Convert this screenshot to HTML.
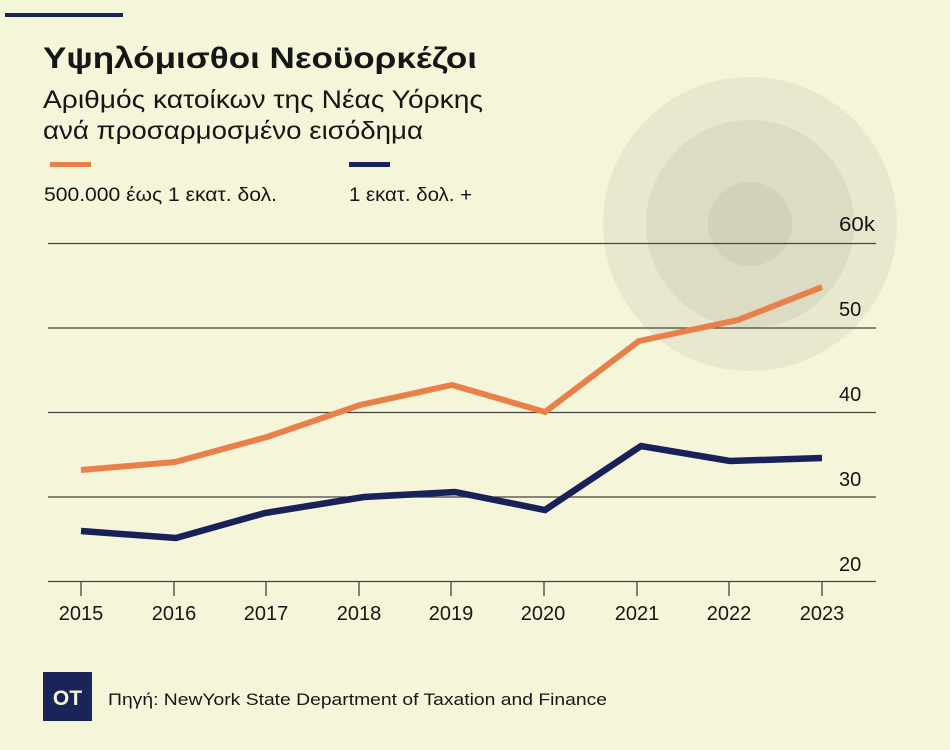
<!DOCTYPE html>
<html><head><meta charset="utf-8"><style>
html,body{margin:0;padding:0;background:#F5F5DA;}
svg{display:block;}
text{font-family:"Liberation Sans",sans-serif;fill:#161616;}
</style></head><body>
<svg width="950" height="750" viewBox="0 0 950 750" xmlns="http://www.w3.org/2000/svg">
<rect x="0" y="0" width="950" height="750" fill="#F5F5DA"/>
<rect x="5" y="13" width="118" height="4" fill="#1B2459"/>
<text x="43" y="68" font-size="30" font-weight="bold" textLength="434" lengthAdjust="spacingAndGlyphs">Υψηλόμισθοι Νεοϋορκέζοι</text>
<text x="43" y="108" font-size="25" textLength="440" lengthAdjust="spacingAndGlyphs">Αριθμός κατοίκων της Νέας Υόρκης</text>
<text x="43" y="139" font-size="25" textLength="380" lengthAdjust="spacingAndGlyphs">ανά προσαρμοσμένο εισόδημα</text>
<rect x="50" y="162" width="41" height="5" fill="#E98049"/>
<rect x="349" y="162" width="41" height="5" fill="#1B2459"/>
<text x="44" y="201" font-size="19" textLength="233" lengthAdjust="spacingAndGlyphs">500.000 έως 1 εκατ. δολ.</text>
<text x="349" y="201" font-size="19" textLength="123" lengthAdjust="spacingAndGlyphs">1 εκατ. δολ. +</text>
<circle cx="750" cy="224" r="147" fill="#E8E8CF"/>
<circle cx="750" cy="224" r="104" fill="#DCDCC4"/>
<circle cx="750" cy="224" r="42" fill="#D2D2BB"/>
<g stroke="#45453D" stroke-width="1.3">
<line x1="48" y1="243.5" x2="876" y2="243.5"/>
<line x1="48" y1="328" x2="876" y2="328"/>
<line x1="48" y1="412.5" x2="876" y2="412.5"/>
<line x1="48" y1="497" x2="876" y2="497"/>
<line x1="48" y1="581.5" x2="876" y2="581.5"/>
<line x1="81" y1="581" x2="81" y2="596"/>
<line x1="174" y1="581" x2="174" y2="596"/>
<line x1="266" y1="581" x2="266" y2="596"/>
<line x1="359" y1="581" x2="359" y2="596"/>
<line x1="451" y1="581" x2="451" y2="596"/>
<line x1="544" y1="581" x2="544" y2="596"/>
<line x1="637" y1="581" x2="637" y2="596"/>
<line x1="729" y1="581" x2="729" y2="596"/>
<line x1="822" y1="581" x2="822" y2="596"/>
</g>
<g font-size="20">
<text x="839" y="231" textLength="36" lengthAdjust="spacingAndGlyphs">60k</text>
<text x="839" y="316">50</text>
<text x="839" y="401">40</text>
<text x="839" y="486">30</text>
<text x="839" y="571">20</text>
</g>
<g font-size="20" text-anchor="middle">
<text x="81" y="620">2015</text>
<text x="174" y="620">2016</text>
<text x="266" y="620">2017</text>
<text x="359" y="620">2018</text>
<text x="451" y="620">2019</text>
<text x="543" y="620">2020</text>
<text x="637" y="620">2021</text>
<text x="729" y="620">2022</text>
<text x="822" y="620">2023</text>
</g>
<polyline fill="none" stroke="#E98049" stroke-width="6" points="81,470 175,462 267,437 360,405 452,385 545,412 639,341 738,320 822,287"/>
<polyline fill="none" stroke="#19215A" stroke-width="6.5" points="81,531 176,538 265,513 364,497 455,492 545,510 641,446 730,461 822,458"/>
<rect x="43" y="672" width="49" height="49" fill="#1B2459"/>
<text x="67.5" y="705" font-size="21" font-weight="bold" text-anchor="middle" style="fill:#F5F5DA">OT</text>
<text x="108" y="705" font-size="17" textLength="499" lengthAdjust="spacingAndGlyphs">Πηγή: NewYork State Department of Taxation and Finance</text>
</svg>
</body></html>
